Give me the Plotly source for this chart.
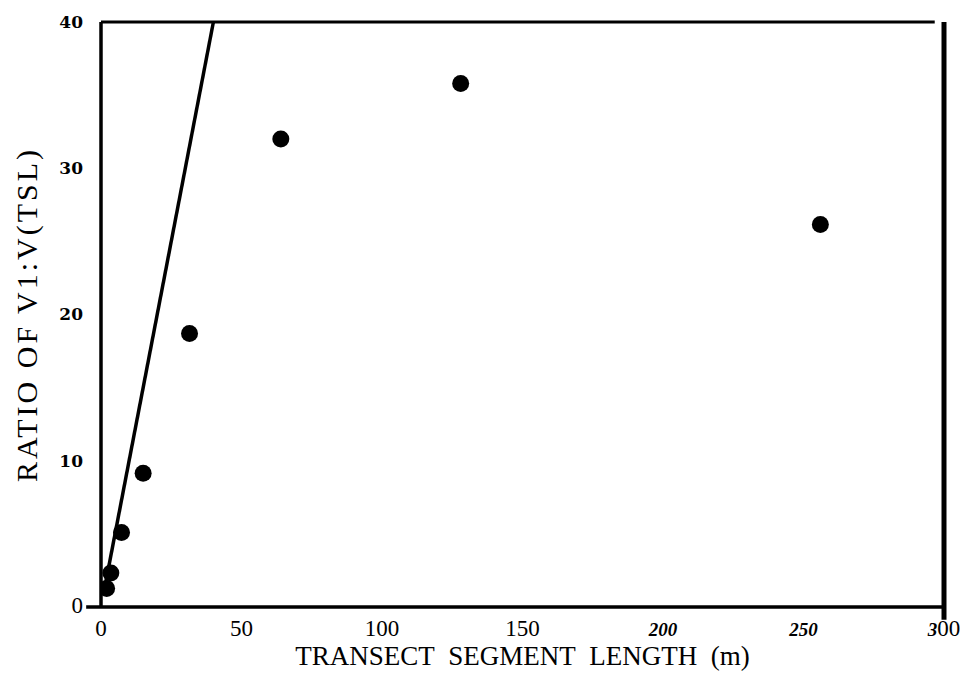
import plotly.graph_objects as go

# Data
segment_length = [2, 3.5, 7.3, 15, 31.5, 64, 128, 256]
ratio = [1.27, 2.33, 5.1, 9.15, 18.7, 32.0, 35.8, 26.15]

# 1:1 reference line
ref_x = [1, 40]
ref_y = [1, 40]

x_tickvals = [0, 50, 100, 150, 200, 250, 300]
x_ticktext = ["0", "50", "100", "150",
              "<span style='font-size:19px'><b><i>200</i></b></span>",
              "<span style='font-size:19px'><b><i>250</i></b></span>",
              "<span style='font-size:19px'><b><i>3</i></b></span>00"]
y_tickvals = [0, 10, 20, 30, 40]
y_ticktext = ["<span style='font-family:Liberation Serif;font-size:23px;font-weight:normal'>0</span>",
              "<b>10</b>", "<b>20</b>", "<b>30</b>", "<b>40</b>"]

fig = go.Figure()
fig.add_trace(go.Scatter(x=ref_x, y=ref_y, mode="lines",
                         line=dict(color="black", width=3.5),
                         showlegend=False, hoverinfo="skip"))
fig.add_trace(go.Scatter(x=segment_length, y=ratio, mode="markers",
                         marker=dict(color="black", size=17),
                         showlegend=False))

fig.update_layout(
    width=972, height=675,
    margin=dict(l=101, r=18, t=18, b=68),
    paper_bgcolor="white", plot_bgcolor="white",
    xaxis=dict(range=[0, 300], tickvals=x_tickvals, ticktext=x_ticktext,
               showgrid=False, zeroline=False, showline=False, ticks="",
               tickfont=dict(family="Liberation Serif", size=23, color="black"),
               ticklabelstandoff=5,
               title=dict(text="TRANSECT\u00a0 SEGMENT\u00a0 LENGTH\u00a0 (m)",
                          font=dict(family="Liberation Serif", size=27, color="black"),
                          standoff=0)),
    yaxis=dict(range=[0, 40], tickvals=y_tickvals, ticktext=y_ticktext,
               showgrid=False, zeroline=False, showline=False, ticks="",
               tickfont=dict(family="DejaVu Serif", size=17, color="black"),
               ticklabelstandoff=17,
               title=dict(text="<span style='letter-spacing:3px'>RATIO OF V1:V(TSL)</span>",
                          font=dict(family="Liberation Serif", size=30, color="black"),
                          standoff=12)),
    shapes=[
        dict(type="line", xref="paper", yref="paper", x0=0, x1=0, y0=0, y1=1,
             line=dict(color="black", width=3.5), layer="above"),
        dict(type="line", xref="paper", yref="paper", x0=-0.0176, x1=1, y0=0, y1=0,
             line=dict(color="black", width=3.5), layer="above"),
        dict(type="line", xref="paper", yref="paper", x0=0, x1=0.989, y0=1, y1=1,
             line=dict(color="black", width=3), layer="above"),
        dict(type="line", xref="paper", yref="paper", x0=1, x1=1, y0=-0.022, y1=1,
             line=dict(color="black", width=5), layer="above"),
    ],
)

fig.write_html("out.html")
